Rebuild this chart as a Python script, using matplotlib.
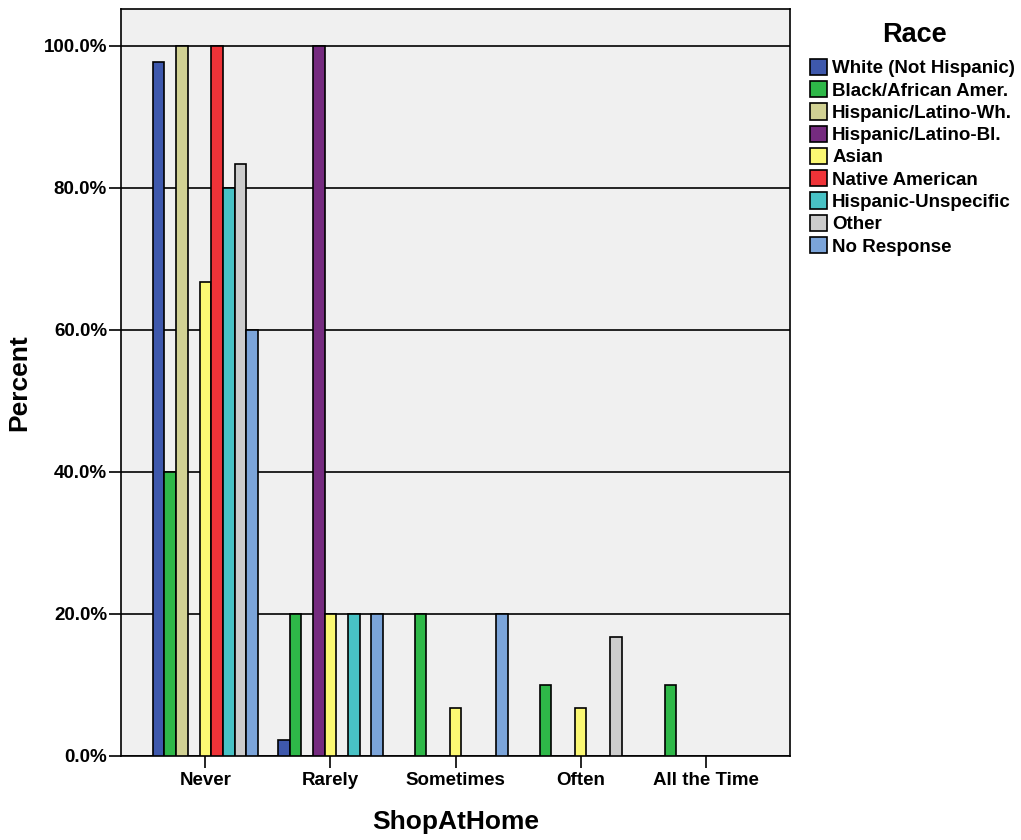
import matplotlib

matplotlib.use("Agg")

import matplotlib.pyplot as plt
from matplotlib.patches import Patch
from matplotlib.ticker import FuncFormatter
import numpy as np

plt.rcParams["font.family"] = ["Liberation Sans", "DejaVu Sans"]
plt.rcParams["font.weight"] = "bold"

CATEGORIES = ["Never", "Rarely", "Sometimes", "Often", "All the Time"]
RACES = [
    "White (Not Hispanic)",
    "Black/African Amer.",
    "Hispanic/Latino-Wh.",
    "Hispanic/Latino-Bl.",
    "Asian",
    "Native American",
    "Hispanic-Unspecific",
    "Other",
    "No Response",
]
COLORS = ["#3e58ac", "#2eb848", "#d1d193", "#752b7f", "#fbf873",
          "#ef3338", "#48c2c5", "#cccccc", "#7ba4d9"]

# percent per race, one value for each ShopAtHome category
white = [97.8, 2.2, 0, 0, 0]
black = [40.0, 20.0, 20.0, 10.0, 10.0]
hisp_wh = [100.0, 0, 0, 0, 0]
hisp_bl = [0, 100.0, 0, 0, 0]
asian = [66.7, 20.0, 6.7, 6.7, 0]
native = [100.0, 0, 0, 0, 0]
hisp_unspec = [80.0, 20.0, 0, 0, 0]
other = [83.3, 0, 0, 16.7, 0]
no_response = [60.0, 20.0, 20.0, 0, 0]
SERIES = [white, black, hisp_wh, hisp_bl, asian, native, hisp_unspec, other, no_response]

fig = plt.figure(figsize=(10.21, 8.4), dpi=100)
fig.patch.set_facecolor("white")
ax = fig.add_axes([0.1185, 0.1, 0.6553, 0.8893])
ax.set_facecolor("#f0f0f0")

x = np.arange(len(CATEGORIES))
bar_w = 0.0935
n = len(SERIES)
for i, (vals, color) in enumerate(zip(SERIES, COLORS)):
    offs = (i - (n - 1) / 2) * bar_w
    for xi, v in zip(x, vals):
        if v > 0:
            ax.bar(xi + offs, v, width=bar_w, color=color, edgecolor="black",
                   linewidth=1.2, zorder=3)

ax.set_xlim(-0.675, 4.675)
ax.set_ylim(0, 105.2)
ax.set_yticks([0, 20, 40, 60, 80, 100])
ax.yaxis.set_major_formatter(FuncFormatter(lambda v, _p: f"{v:.1f}%"))
ax.set_xticks(x)
ax.set_xticklabels(CATEGORIES)
ax.grid(axis="y", color="black", linewidth=1.2, zorder=1)
ax.set_axisbelow(True)
ax.tick_params(axis="both", length=8.5, width=1.2, labelsize=13.5, colors="black")
ax.tick_params(axis="y", pad=1.5)
ax.tick_params(axis="x", pad=3)
for spine in ax.spines.values():
    spine.set_linewidth(1.2)
    spine.set_color("black")

ax.set_ylabel("Percent", fontsize=19, fontweight="bold", labelpad=9)
ax.set_xlabel("ShopAtHome", fontsize=19, fontweight="bold", labelpad=15)

# legend title placed on its own, entries below it
fig.text(0.896, 0.958, "Race", fontsize=19.5, fontweight="bold",
         ha="center", va="center")
handles = [Patch(facecolor=c, edgecolor="black", linewidth=1.2) for c in COLORS]
leg = fig.legend(handles, RACES, loc="upper left", bbox_to_anchor=(0.793, 0.930),
                 frameon=False, fontsize=13.5, handlelength=0.95,
                 handleheight=0.95, handletextpad=0.25, labelspacing=0.2,
                 borderaxespad=0, borderpad=0)
for t in leg.get_texts():
    t.set_fontweight("bold")

fig.savefig("out.png", dpi=100)
